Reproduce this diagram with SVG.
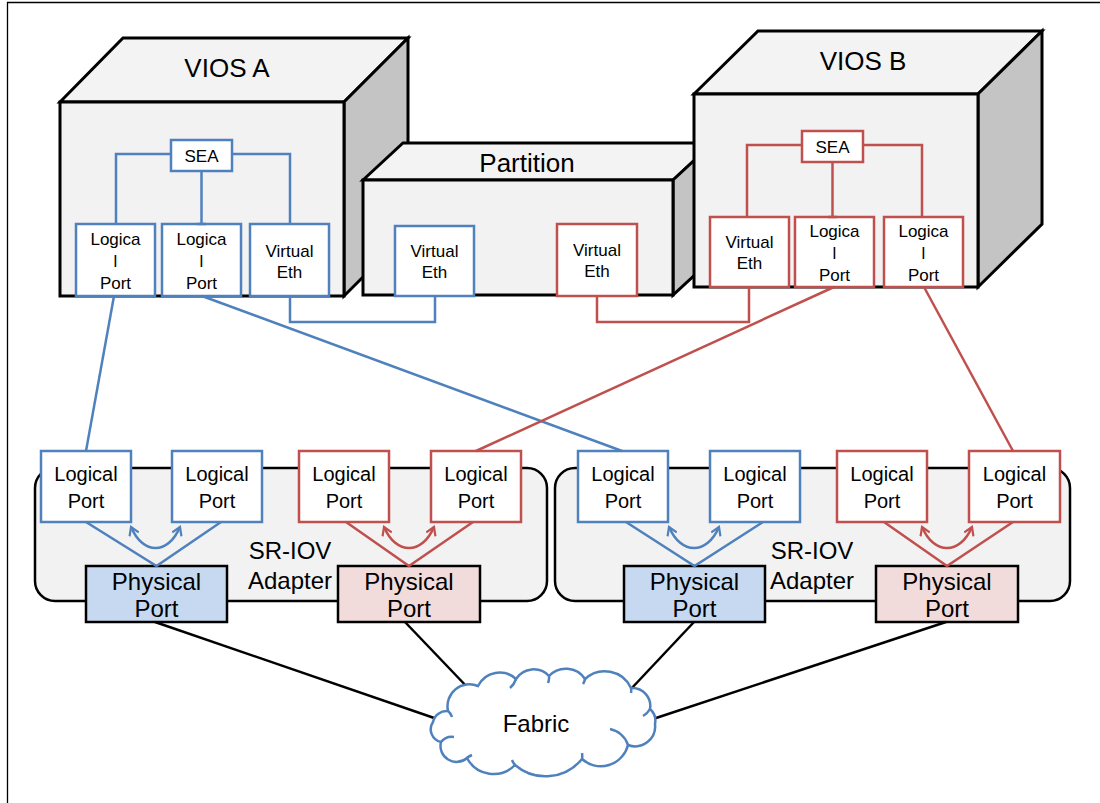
<svg xmlns="http://www.w3.org/2000/svg" width="1100" height="803" viewBox="0 0 1100 803">
  <style>
    .t { font-family: "Liberation Sans", Arial, sans-serif; fill: #000; text-anchor: middle; }
    .title { font-size: 26px; }
    .small { font-size: 17px; }
    .mid { font-size: 20px; }
    .big { font-size: 24px; }
    .front { fill: #F2F2F2; stroke: #000; stroke-width: 3; stroke-linejoin: miter; }
    .top { fill: #F3F3F3; stroke: #000; stroke-width: 3; }
    .side { fill: #C4C4C4; stroke: #000; stroke-width: 3; }
    .bbox { fill: #FFFFFF; stroke: #4F81BD; stroke-width: 2.5; }
    .rbox { fill: #FFFFFF; stroke: #C0504D; stroke-width: 2.5; }
    .bl { fill: none; stroke: #4F81BD; stroke-width: 2.5; }
    .rl { fill: none; stroke: #C0504D; stroke-width: 2.5; }
    .kl { fill: none; stroke: #000; stroke-width: 2.5; }
    .adapter { fill: #F2F2F2; stroke: #000; stroke-width: 2.5; }
    .pblue { fill: #C6D9F1; stroke: #000; stroke-width: 2.5; }
    .pred { fill: #F2DCDB; stroke: #000; stroke-width: 2.5; }
  </style>
  <defs>
    <marker id="arrowBlue" viewBox="0 0 12 12" refX="10" refY="6" markerWidth="12" markerHeight="12" markerUnits="userSpaceOnUse" orient="auto-start-reverse">
      <path d="M2,1 L10,6 L2,11" fill="none" stroke="#4F81BD" stroke-width="2.2"/>
    </marker>
    <marker id="arrowRed" viewBox="0 0 12 12" refX="10" refY="6" markerWidth="12" markerHeight="12" markerUnits="userSpaceOnUse" orient="auto-start-reverse">
      <path d="M2,1 L10,6 L2,11" fill="none" stroke="#C0504D" stroke-width="2.2"/>
    </marker>
  </defs>

  <rect x="0" y="0" width="1100" height="803" fill="#FFFFFF"/>
  <!-- page frame -->
  <path d="M7.5,803 V2.5 H1100" fill="none" stroke="#000" stroke-width="1.3"/>

  <!-- VIOS A -->
  <g id="vios-a">
    <polygon class="top" points="60,102 123,38 408,38 344,102"/>
    <polygon class="side" points="344,102 408,38 408,232 344,296"/>
    <rect class="front" x="60" y="102" width="284" height="194"/>
    <text class="t title" x="227" y="77">VIOS A</text>
    <g id="vios-a-sea">
      <rect class="bbox" x="171" y="140" width="61" height="31"/>
      <text class="t small" x="201.5" y="162">SEA</text>
    </g>
    <g id="vios-a-lp1">
      <rect class="bbox" x="76" y="224" width="79" height="72"/>
      <text class="t small" x="115.5" y="245">Logica</text>
      <text class="t small" x="115.5" y="267">l</text>
      <text class="t small" x="115.5" y="289">Port</text>
    </g>
    <g id="vios-a-lp2">
      <rect class="bbox" x="162" y="224" width="79" height="72"/>
      <text class="t small" x="201.5" y="245">Logica</text>
      <text class="t small" x="201.5" y="267">l</text>
      <text class="t small" x="201.5" y="289">Port</text>
    </g>
    <g id="vios-a-veth">
      <rect class="bbox" x="250" y="224" width="79" height="72"/>
      <text class="t small" x="289.5" y="257">Virtual</text>
      <text class="t small" x="289.5" y="278">Eth</text>
    </g>
  </g>

  <!-- Partition -->
  <g id="partition">
    <polygon class="top" points="363,180 403,143 713,143 673,180"/>
    <polygon class="side" points="673,180 713,143 713,258 673,295"/>
    <rect class="front" x="363" y="180" width="310" height="115"/>
    <text class="t title" x="527" y="172">Partition</text>
    <g id="partition-veth-a">
      <rect class="bbox" x="395" y="226" width="79" height="70"/>
      <text class="t small" x="434.5" y="257">Virtual</text>
      <text class="t small" x="434.5" y="278">Eth</text>
    </g>
    <g id="partition-veth-b">
      <rect class="rbox" x="557" y="224" width="80" height="72"/>
      <text class="t small" x="597" y="256">Virtual</text>
      <text class="t small" x="597" y="277">Eth</text>
    </g>
  </g>

  <!-- VIOS B -->
  <g id="vios-b">
    <polygon class="top" points="694,94 758,31 1042,31 978,94"/>
    <polygon class="side" points="978,94 1042,31 1042,224 978,287"/>
    <rect class="front" x="694" y="94" width="284" height="193"/>
    <text class="t title" x="863" y="70">VIOS B</text>
    <g id="vios-b-sea">
      <rect class="rbox" x="802" y="131" width="61" height="31"/>
      <text class="t small" x="832.5" y="153">SEA</text>
    </g>
    <g id="vios-b-veth">
      <rect class="rbox" x="710" y="217" width="79" height="70"/>
      <text class="t small" x="749.5" y="248">Virtual</text>
      <text class="t small" x="749.5" y="269">Eth</text>
    </g>
    <g id="vios-b-lp1">
      <rect class="rbox" x="795" y="217" width="79" height="70"/>
      <text class="t small" x="834.5" y="237">Logica</text>
      <text class="t small" x="834.5" y="259">l</text>
      <text class="t small" x="834.5" y="281">Port</text>
    </g>
    <g id="vios-b-lp2">
      <rect class="rbox" x="884" y="217" width="79" height="70"/>
      <text class="t small" x="923.5" y="237">Logica</text>
      <text class="t small" x="923.5" y="259">l</text>
      <text class="t small" x="923.5" y="281">Port</text>
    </g>
  </g>

  <!-- SR-IOV adapter 1 -->
  <g id="adapter-1">
    <rect class="adapter" x="35" y="468" width="512" height="133" rx="20" ry="20"/>
    <text class="t big" x="290" y="559">SR-IOV</text>
    <text class="t big" x="290" y="589">Adapter</text>
    <g id="a1-lp1">
      <rect class="bbox" x="41" y="451" width="90" height="71"/>
      <text class="t mid" x="86" y="481">Logical</text>
      <text class="t mid" x="86" y="508">Port</text>
    </g>
    <g id="a1-lp2">
      <rect class="bbox" x="172" y="451" width="90" height="71"/>
      <text class="t mid" x="217" y="481">Logical</text>
      <text class="t mid" x="217" y="508">Port</text>
    </g>
    <g id="a1-lp3">
      <rect class="rbox" x="299" y="451" width="90" height="71"/>
      <text class="t mid" x="344" y="481">Logical</text>
      <text class="t mid" x="344" y="508">Port</text>
    </g>
    <g id="a1-lp4">
      <rect class="rbox" x="431" y="451" width="90" height="71"/>
      <text class="t mid" x="476" y="481">Logical</text>
      <text class="t mid" x="476" y="508">Port</text>
    </g>
    <g id="a1-pp-blue">
      <rect class="pblue" x="86" y="566" width="141" height="56"/>
      <text class="t big" x="156.5" y="590">Physical</text>
      <text class="t big" x="156.5" y="617">Port</text>
    </g>
    <g id="a1-pp-red">
      <rect class="pred" x="338" y="566" width="142" height="56"/>
      <text class="t big" x="409" y="590">Physical</text>
      <text class="t big" x="409" y="617">Port</text>
    </g>
  </g>

  <!-- SR-IOV adapter 2 -->
  <g id="adapter-2">
    <rect class="adapter" x="555" y="468" width="515" height="133" rx="20" ry="20"/>
    <text class="t big" x="812" y="559">SR-IOV</text>
    <text class="t big" x="812" y="589">Adapter</text>
    <g id="a2-lp1">
      <rect class="bbox" x="578" y="451" width="90" height="71"/>
      <text class="t mid" x="623" y="481">Logical</text>
      <text class="t mid" x="623" y="508">Port</text>
    </g>
    <g id="a2-lp2">
      <rect class="bbox" x="710" y="451" width="90" height="71"/>
      <text class="t mid" x="755" y="481">Logical</text>
      <text class="t mid" x="755" y="508">Port</text>
    </g>
    <g id="a2-lp3">
      <rect class="rbox" x="837" y="451" width="90" height="71"/>
      <text class="t mid" x="882" y="481">Logical</text>
      <text class="t mid" x="882" y="508">Port</text>
    </g>
    <g id="a2-lp4">
      <rect class="rbox" x="969" y="451" width="91" height="71"/>
      <text class="t mid" x="1014.5" y="481">Logical</text>
      <text class="t mid" x="1014.5" y="508">Port</text>
    </g>
    <g id="a2-pp-blue">
      <rect class="pblue" x="624" y="566" width="141" height="56"/>
      <text class="t big" x="694.5" y="590">Physical</text>
      <text class="t big" x="694.5" y="617">Port</text>
    </g>
    <g id="a2-pp-red">
      <rect class="pred" x="876" y="566" width="142" height="56"/>
      <text class="t big" x="947" y="590">Physical</text>
      <text class="t big" x="947" y="617">Port</text>
    </g>
  </g>

  <!-- connectors -->
  <g id="connectors">
    <!-- SEA fan-out inside VIOS A -->
    <path class="bl" d="M171,154 H116 V224"/>
    <path class="bl" d="M232,154 H290 V224"/>
    <path class="bl" d="M201.5,171 V224"/>
    <path class="bl" d="M197,224 H206"/>
    <!-- SEA fan-out inside VIOS B -->
    <path class="rl" d="M802,145 H747 V217"/>
    <path class="rl" d="M863,145 H922 V217"/>
    <path class="rl" d="M832.5,162 V217"/>
    <path class="rl" d="M828,217 H837"/>
    <!-- virtual ethernet links -->
    <path class="bl" d="M290,296 V322 H435 V296"/>
    <path class="rl" d="M597,296 V322 H749 V287"/>
    <!-- VIOS logical ports to adapter logical ports -->
    <line class="bl" x1="114" y1="296" x2="86" y2="451"/>
    <line class="bl" x1="202" y1="296" x2="622" y2="451"/>
    <line class="rl" x1="834" y1="287" x2="476" y2="451"/>
    <line class="rl" x1="924" y1="287" x2="1013" y2="451"/>
    <!-- logical to physical, adapter 1 -->
    <polyline class="bl" points="86,522 156.5,566 221,522"/>
    <polyline class="rl" points="346,522 409,566 473,522"/>
    <path class="bl" d="M131,527 C143,555 168,555 180,527" marker-start="url(#arrowBlue)" marker-end="url(#arrowBlue)"/>
    <path class="rl" d="M384,527 C396,555 422,555 434,527" marker-start="url(#arrowRed)" marker-end="url(#arrowRed)"/>
    <!-- logical to physical, adapter 2 -->
    <polyline class="bl" points="626,522 694.5,566 763,522"/>
    <polyline class="rl" points="884,522 947,566 1013,522"/>
    <path class="bl" d="M669,527 C681,555 707,555 719,527" marker-start="url(#arrowBlue)" marker-end="url(#arrowBlue)"/>
    <path class="rl" d="M922,527 C934,555 960,555 972,527" marker-start="url(#arrowRed)" marker-end="url(#arrowRed)"/>
    <!-- physical ports to fabric -->
    <line class="kl" x1="155" y1="622" x2="440" y2="720"/>
    <line class="kl" x1="405" y1="622" x2="470" y2="690"/>
    <line class="kl" x1="694" y1="622" x2="630" y2="690"/>
    <line class="kl" x1="946" y1="622" x2="650" y2="720"/>
  </g>

  <!-- Fabric cloud -->
  <g id="fabric">
    <path d="M448,711 A22,22 0 0 1 478,686 A24,24 0 0 1 516,679 A21,21 0 0 1 549,676 A23,23 0 0 1 585,679 A29,29 0 0 1 631,688 A18,18 0 0 1 650,709 A16,16 0 0 1 655,724 A20,20 0 0 1 628,745 A28,28 0 0 1 582,759 A47,47 0 0 1 515,765 A30,30 0 0 1 467,758 A16,16 0 0 1 441,742 A13,13 0 0 1 433,722 A14,14 0 0 1 448,711 Z" fill="#FFFFFF" stroke="#4F81BD" stroke-width="2.5"/>
    <path d="M448,711 A12,12 0 0 1 452,717 M441,742 A14,14 0 0 1 454,737 M510,688 A20,20 0 0 0 516,679 M548,683 A14,14 0 0 0 549,676 M585,679 A12,12 0 0 1 583,684 M631,688 A14,14 0 0 1 631,693 M650,709 A18,18 0 0 1 643,716 M610,729 A24,24 0 0 1 628,745 M582,759 A18,18 0 0 0 582,753 M515,765 A18,18 0 0 1 512,760 M467,758 A16,16 0 0 1 472,755" fill="none" stroke="#4F81BD" stroke-width="2.5"/>
    <text class="t big" x="536" y="732">Fabric</text>
  </g>
</svg>
